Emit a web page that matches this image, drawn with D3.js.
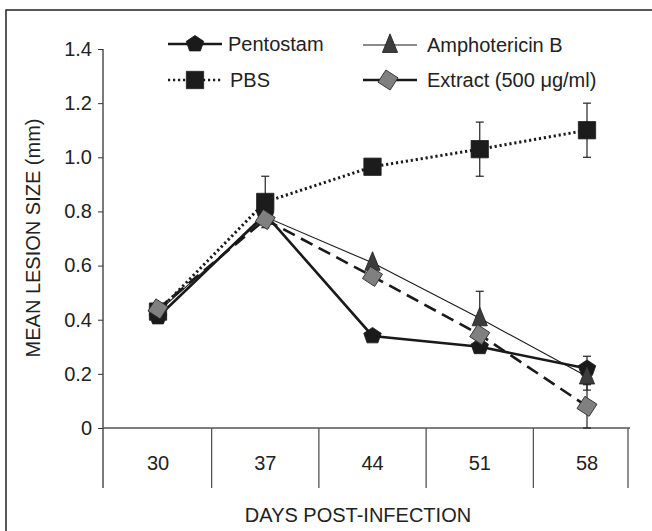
<!DOCTYPE html>
<html>
<head>
<meta charset="utf-8">
<script src="https://cdn.jsdelivr.net/npm/d3@7"></script>
<style>
  body { margin: 0; background: #fff; }
  text { font-family: 'Liberation Sans', Arial, sans-serif; fill: #222; }
</style>
</head>
<body>
<svg width="652" height="531"></svg>
<script>
// days post-infection
const days = ['30', '37', '44', '51', '58'];

// mean lesion size (mm) for each group
const pentostam = [0.41, 0.79, 0.34, 0.30, 0.22];
const amphoB    = [0.43, 0.78, 0.61, 0.405, 0.19];
const pbs       = [0.43, 0.835, 0.965, 1.03, 1.10];
const extract   = [0.44, 0.77, 0.56, 0.345, 0.08];

// error bars (+/-), 0 means none drawn
const pentostamErr = [0, 0, 0, 0, 0.045];
const amphoBErr    = [0, 0, 0, 0.10, 0.05];
const pbsErr       = [0, 0.095, 0, 0.10, 0.10];
const extractErr   = [0, 0, 0, 0, 0.08];

const yTicks = [0, 0.2, 0.4, 0.6, 0.8, 1.0, 1.2, 1.4];

const svg = d3.select('svg');

// outer frame, runs off the right / bottom edge like the scan
svg.append('rect')
    .attr('x', 6).attr('y', 10)
    .attr('width', 700).attr('height', 600)
    .attr('fill', 'none')
    .attr('stroke', '#222')
    .attr('stroke-width', 1.5);

const axisX = 103, axisRight = 628, divBottom = 488;

const x = d3.scalePoint()
            .domain(days)
            .range([158, 587]);
const y = d3.scaleLinear()
            .domain([0, 1.4])
            .range([428, 49]);

// --- y axis
const gy = svg.append('g')
    .attr('transform', 'translate(' + axisX + ',0)')
    .call(d3.axisLeft(y).tickValues(yTicks).tickSize(5).tickPadding(6)
            .tickFormat(d => d === 0 ? '0' : d3.format('.1f')(d)));
gy.select('.domain').remove();
gy.selectAll('line').attr('stroke', '#333');
gy.selectAll('text')
    .style('font-size', '20px')
    .style('font-family', "'Liberation Sans', Arial, sans-serif")
    .attr('fill', '#222');

svg.append('line')
    .attr('x1', axisX).attr('x2', axisX)
    .attr('y1', y(1.4)).attr('y2', divBottom)
    .attr('stroke', '#333').attr('stroke-width', 1.3);

// --- x axis with category dividers
svg.append('line')
    .attr('x1', axisX).attr('x2', axisRight + 2)
    .attr('y1', y(0)).attr('y2', y(0))
    .attr('stroke', '#555').attr('stroke-width', 1.3);

const step = x.step();
const edges = days.slice(1).map(d => x(d) - step / 2).concat([axisRight]);
svg.selectAll('.divider')
    .data(edges)
  .enter().append('line')
    .attr('class', 'divider')
    .attr('x1', d => d).attr('x2', d => d)
    .attr('y1', y(0)).attr('y2', divBottom)
    .attr('stroke', '#555').attr('stroke-width', 1.3);

svg.selectAll('.xlab')
    .data(days)
  .enter().append('text')
    .attr('class', 'xlab')
    .attr('x', d => x(d))
    .attr('y', 470)
    .attr('text-anchor', 'middle')
    .style('font-size', '20px')
    .text(d => d);

svg.append('text')
    .attr('x', 358).attr('y', 522)
    .attr('text-anchor', 'middle')
    .style('font-size', '20px')
    .text('DAYS POST-INFECTION');

svg.append('text')
    .attr('transform', 'translate(40,238) rotate(-90)')
    .attr('text-anchor', 'middle')
    .style('font-size', '20px')
    .text('MEAN LESION SIZE (mm)');

// --- custom marker shapes
const pentagon = {
  draw(ctx, size) {
    const r = Math.sqrt(size / 2.4);
    for (let i = 0; i < 5; i++) {
      const a = -Math.PI / 2 + i * 2 * Math.PI / 5;
      const px = r * Math.cos(a) * 1.08, py = r * Math.sin(a);
      if (i === 0) ctx.moveTo(px, py); else ctx.lineTo(px, py);
    }
    ctx.closePath();
  }
};
const tallTriangle = {
  draw(ctx, size) {
    const h = Math.sqrt(size) * 1.35, w = Math.sqrt(size) * 0.55;
    ctx.moveTo(0, -h * 0.6);
    ctx.lineTo(w, h * 0.4);
    ctx.lineTo(-w, h * 0.4);
    ctx.closePath();
  }
};

const series = [
  { name: 'Pentostam', values: pentostam, err: pentostamErr, shape: pentagon, size: 175,
    fill: '#1a1a1a', stroke: '#1a1a1a', width: 2.6, dash: null, rot: 0 },
  { name: 'Amphotericin B', values: amphoB, err: amphoBErr, shape: tallTriangle, size: 190,
    fill: '#3d3d3d', stroke: '#1a1a1a', width: 1.1, dash: null, rot: 0 },
  { name: 'PBS', values: pbs, err: pbsErr, shape: d3.symbolSquare, size: 300,
    fill: '#1c1c1c', stroke: '#1c1c1c', width: 3, dash: '2.2,2.8', rot: 0 },
  { name: 'Extract (500 \u03bcg/ml)', values: extract, err: extractErr, shape: d3.symbolSquare, size: 210,
    fill: '#808080', stroke: '#2a2a2a', width: 2.6, dash: '13,7', rot: 33 }
];

const line = d3.line()
               .x((d, i) => x(days[i]))
               .y(d => y(d));

// error bars first so markers sit on top
series.forEach(s => {
  const g = svg.append('g');
  s.values.forEach((v, i) => {
    const e = s.err[i];
    if (!e) return;
    const cx = x(days[i]);
    g.append('line')
        .attr('x1', cx).attr('x2', cx)
        .attr('y1', y(v + e)).attr('y2', y(Math.max(0, v - e)))
        .attr('stroke', '#222').attr('stroke-width', 1.2);
    [v + e, Math.max(0, v - e)].forEach(t => {
      g.append('line')
          .attr('x1', cx - 4).attr('x2', cx + 4)
          .attr('y1', y(t)).attr('y2', y(t))
          .attr('stroke', '#222').attr('stroke-width', 1.2);
    });
  });
});

series.forEach(s => {
  svg.append('path')
      .datum(s.values)
      .attr('fill', 'none')
      .attr('stroke', '#1a1a1a')
      .attr('stroke-width', s.width)
      .attr('stroke-dasharray', s.dash)
      .attr('d', line);

  svg.selectAll(null)
      .data(s.values)
    .enter().append('path')
      .attr('transform', (d, i) => 'translate(' + x(days[i]) + ',' + y(d) + ') rotate(' + s.rot + ')')
      .attr('d', d3.symbol().type(s.shape).size(s.size))
      .attr('fill', s.fill)
      .attr('stroke', s.stroke)
      .attr('stroke-width', 0.8);
});

// --- legend
const legendPos = [
  { lx: 168, sx: 195, tx: 228, ly: 44 },
  { lx: 363, sx: 390, tx: 427, ly: 45 },
  { lx: 168, sx: 195, tx: 230, ly: 80 },
  { lx: 363, sx: 388, tx: 427, ly: 80 }
];

series.forEach((s, i) => {
  const p = legendPos[i];
  svg.append('line')
      .attr('x1', p.lx).attr('x2', p.lx + 54)
      .attr('y1', p.ly).attr('y2', p.ly)
      .attr('stroke', '#1a1a1a')
      .attr('stroke-width', s.name === 'PBS' ? 2.4 : s.width)
      .attr('stroke-dasharray', s.name === 'PBS' ? s.dash : null);
  svg.append('path')
      .attr('transform', 'translate(' + p.sx + ',' + p.ly + ') rotate(' + s.rot + ')')
      .attr('d', d3.symbol().type(s.shape).size(s.size))
      .attr('fill', s.fill)
      .attr('stroke', s.stroke)
      .attr('stroke-width', 0.8);
  svg.append('text')
      .attr('x', p.tx).attr('y', p.ly + 7)
      .style('font-size', '20px')
      .text(s.name);
});
</script>
</body>
</html>
